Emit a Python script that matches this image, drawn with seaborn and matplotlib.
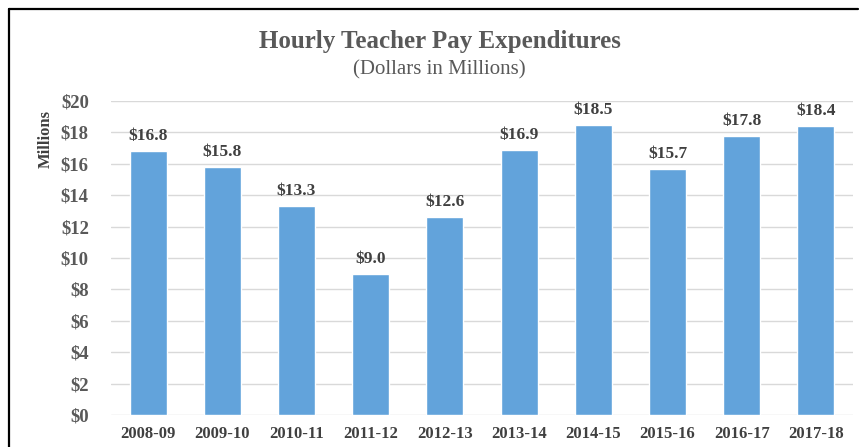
import pandas as pd
import matplotlib.pyplot as plt
import seaborn as sns
from matplotlib.lines import Line2D

years = ["2008-09", "2009-10", "2010-11", "2011-12", "2012-13",
         "2013-14", "2014-15", "2015-16", "2016-17", "2017-18"]
pay = [16.8, 15.8, 13.3, 9.0, 12.6, 16.9, 18.5, 15.7, 17.8, 18.4]
yticks = [0, 2, 4, 6, 8, 10, 12, 14, 16, 18, 20]

data = pd.DataFrame({"Year": years, "Pay": pay})

sns.set_style("white")
plt.rcParams['font.family'] = ['Liberation Serif', 'DejaVu Serif']

fig = plt.figure(figsize=(8.59, 4.47), dpi=100)
ax = fig.add_axes([0.1292, 0.0716, 0.8638, 0.7024])

sns.barplot(x="Year", y="Pay", data=data, color="#62A3DB", width=0.5,
            saturation=1, ax=ax, zorder=3)

# value labels above bars
for p in ax.patches:
    ax.annotate('${:.1f}'.format(p.get_height()),
                (p.get_x() + p.get_width() / 2, p.get_height()),
                ha='center', va='bottom', size=12.5, weight='bold',
                color='#404040', xytext=(0, 5), textcoords='offset points')

ax.set_ylim(0, 20)
ax.set_xlim(-0.5, len(years) - 0.5)
ax.set_yticks(yticks)
ax.set_yticklabels(['${}'.format(v) for v in yticks], size=13.5,
                   weight='bold', color='#595959')
ax.set_xticks(range(len(years)))
ax.set_xticklabels(years, size=12, weight='bold', color='#404040')
ax.tick_params(axis='both', length=0)
ax.tick_params(axis='y', pad=16)
ax.tick_params(axis='x', pad=8)
ax.yaxis.grid(True, color='#D9D9D9', linewidth=1, zorder=0)
ax.set_axisbelow(True)
for s in ax.spines.values():
    s.set_visible(False)

ax.set_xlabel("")
ax.set_ylabel("Millions", size=12, weight='bold', color='#404040')
ax.yaxis.set_label_coords(-0.077, 0.88)

fig.text(0.512, 0.908, "Hourly Teacher Pay Expenditures", ha='center',
         va='center', size=18, weight='bold', color='#595959')
fig.text(0.512, 0.843, "(Dollars in Millions)", ha='center', va='center',
         size=15, color='#595959')

# chart frame (top and left edges)
fig.add_artist(Line2D([0.0105, 0.999], [0.979, 0.979], color='black', linewidth=1.6))
fig.add_artist(Line2D([0.0105, 0.0105], [0.0, 0.979], color='black', linewidth=1.6))

plt.savefig("out.png", dpi=100)
